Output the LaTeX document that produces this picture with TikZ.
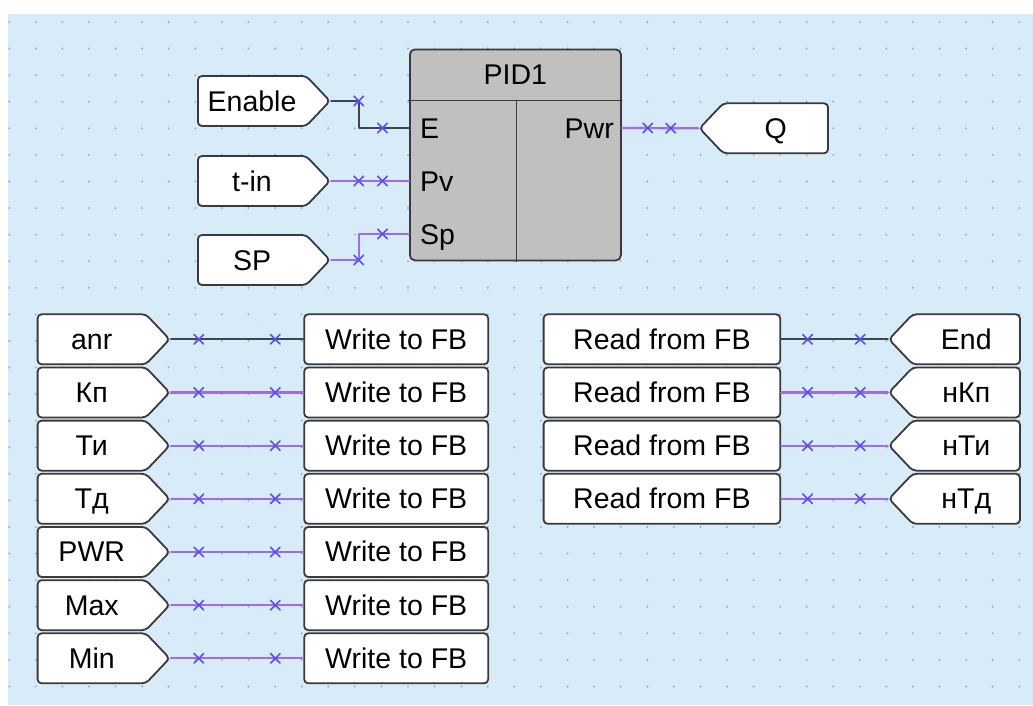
\documentclass[tikz,border=0pt]{standalone}
\usepackage{fontspec}
\setmainfont{Liberation Sans}
\usepackage{tikz}
\usetikzlibrary{positioning,calc,shapes.symbols,shapes.misc}
\definecolor{canvas}{HTML}{D8EBF9}
\definecolor{griddot}{HTML}{A3ADB6}
\definecolor{frame}{HTML}{3A3A3A}
\definecolor{fbgray}{HTML}{C0C0C0}
\definecolor{wirepurple}{HTML}{9F6BEA}
\definecolor{wiregray}{HTML}{3F4650}
\definecolor{pinblue}{HTML}{5A50F0}
\tikzset{
    every picture/.style={line cap=round,line join=round},
    tagbase/.style={shape=signal,signal pointer angle=93,
      draw=frame,fill=white,line width=1.8pt,rounded corners=4pt,
      minimum height=50pt,inner sep=0pt,text height=20pt,text depth=0pt},
    intag/.style={tagbase,signal to=east,minimum width=132pt},
    outtag/.style={tagbase,signal to=west,minimum width=131pt},
    fbcell/.style={draw=frame,fill=white,line width=1.8pt,rounded corners=4pt,
      minimum height=50pt,inner sep=0pt,text height=20pt,text depth=0pt},
    fbblock/.style={draw=frame,fill=fbgray,line width=1.8pt,rounded corners=5pt,
      minimum width=211pt,minimum height=211pt,inner sep=0pt},
    pinlabel/.style={inner sep=0pt,text height=20pt,text depth=0pt},
    link/.style={draw=wirepurple,line width=2.2pt},
    linkoff/.style={draw=wiregray,line width=2.2pt},
    pinx/.style={cross out,draw=pinblue,line width=1.6pt,minimum size=8pt,inner sep=0pt}
}
\begin{document}
\begin{tikzpicture}[x=1pt,y=-1pt,font=\fontsize{28.5}{32}\selectfont]
  \useasboundingbox (0,0) rectangle (1033,705);
  \fill[canvas] (8,14) rectangle (1033,705);
  \foreach \i in {0,...,38}
    \foreach \j in {0,...,25}
      \fill[griddot] (9.3+26.58*\i,22+26.58*\j) circle (1.1pt);

  \node[fbblock,anchor=north west] (pid) at (409,48.5) {};
  \node (pidname) at ($(pid.north)+(0,26)$) {PID1};
  \draw[frame,line width=1.8pt] ($(pid.north west)+(0,52)$) -- ($(pid.north east)+(0,52)$);
  \draw[frame,line width=1.8pt] ($(pid.north)+(1,52)$) -- ($(pid.south)+(1,0)$);
  \node[pinlabel,anchor=west] (pE) at (420,128) {E};
  \node[pinlabel,anchor=west] (pPv) at (420,181) {Pv};
  \node[pinlabel,anchor=west] (pSp) at (420,234) {Sp};
  \node[pinlabel,anchor=east] (pPwr) at (614,128) {Pwr};

  \foreach \n/\t/\y in {en/Enable/101,tin/t-in/181,sp/SP/260}
    \node[intag,anchor=west] (\n) at (197,\y) {\t};
  \node[outtag,minimum width=128.5pt,anchor=west] (q) at (698.3,128.3) {Q};

  \draw[linkoff] (en.east) -- ++(27.5,0) coordinate (enA) |- (pid.west |- pE);
  \draw[link] (tin.east) -- ++(27.5,0) coordinate (tinA) -- (pid.west |- pPv);
  \draw[link] (sp.east) -- ++(27.5,0) coordinate (spA) |- (pid.west |- pSp);
  \draw[link] (pid.east |- pPwr) -- (q.west);
  \foreach \p in {enA,tinA,spA}
    \node[pinx] at (\p) {};
  \foreach \p in {pE,pPv,pSp}
    \node[pinx] at ($(pid.west |- \p)+(-26.5,0)$) {};
  \node[pinx] at ($(pid.east |- pPwr)+(26,0)$) {};
  \node[pinx] at ($(q.west)+(-27.5,0)$) {};

  \foreach \k/\t/\s in {0/anr/linkoff,1/Кп/link,2/Ти/link,3/Тд/link,4/PWR/link,5/Max/link,6/Min/link} {
    \node[intag,anchor=west] (in\k) at (36.7,339.3+53.17*\k) {\t};
    \node[fbcell,minimum width=184pt,anchor=west] (wr\k) at (303.3,339.3+53.17*\k) {Write to FB};
    \draw[\s] (in\k.east) -- (wr\k.west);
    \node[pinx] at ($(in\k.east)+(28,0)$) {};
    \node[pinx] at ($(wr\k.west)+(-28,0)$) {};
  }

  \foreach \k/\t/\s in {0/End/linkoff,1/нКп/link,2/нТи/link,3/нТд/link} {
    \node[fbcell,minimum width=236.6pt,anchor=west] (rd\k) at (542.7,339.3+53.17*\k) {Read from FB};
    \node[outtag,anchor=west] (out\k) at (887.7,339.3+53.17*\k) {\t};
    \draw[\s] (rd\k.east) -- (out\k.west);
    \node[pinx] at ($(rd\k.east)+(26.5,0)$) {};
    \node[pinx] at ($(out\k.west)+(-27.5,0)$) {};
  }
\end{tikzpicture}
\end{document}
